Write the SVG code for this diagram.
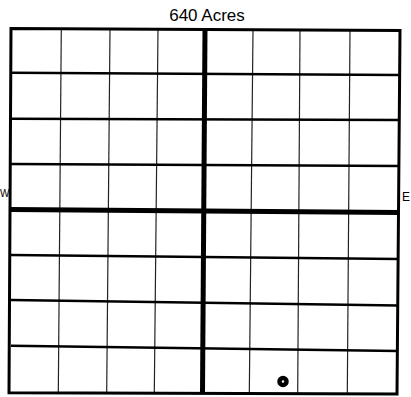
<svg xmlns="http://www.w3.org/2000/svg" width="411" height="397" viewBox="0 0 411 397">
<style>
.v{stroke:#222;stroke-width:1.2;fill:none}
.h{stroke:#000;stroke-width:2.5;fill:none}
.b{stroke:#000;stroke-width:3;fill:none}
.c{stroke:#000;stroke-width:5;fill:none}
text{font-family:"Liberation Sans",Arial,sans-serif;fill:#000}
</style>
<rect width="411" height="397" fill="#fff"/>
<text x="207" y="21" font-size="17" text-anchor="middle">640 Acres</text>
<text x="0" y="197" font-size="10">W</text>
<text x="402" y="201" font-size="12">E</text>
<g id="grid">
<line class="v" x1="61.3" y1="29" x2="58.3" y2="393"/>
<line class="v" x1="110" y1="29" x2="106.7" y2="393"/>
<line class="v" x1="158" y1="29" x2="154.3" y2="393"/>
<line class="v" x1="253" y1="30" x2="249.3" y2="394"/>
<line class="v" x1="300" y1="30" x2="297.7" y2="394"/>
<line class="v" x1="350" y1="30" x2="347.3" y2="394"/>
<line class="h" x1="11" y1="72.7" x2="400" y2="75"/>
<line class="h" x1="11" y1="118.7" x2="400" y2="120"/>
<line class="h" x1="11" y1="164" x2="400" y2="166"/>
<line class="h" x1="11" y1="255" x2="398" y2="259"/>
<line class="h" x1="11" y1="300" x2="398" y2="305.5"/>
<line class="h" x1="11" y1="345.7" x2="398" y2="351"/>
<line class="c" x1="205" y1="29" x2="202.5" y2="393"/>
<line class="c" x1="11" y1="209.5" x2="399" y2="212.5"/>
<polygon class="b" points="11,28.5 400,30.5 397,394 9,392.7"/>
</g>
<circle id="dot" cx="283" cy="381.5" r="3.5" fill="#fff" stroke="#000" stroke-width="4.5"/>
</svg>
